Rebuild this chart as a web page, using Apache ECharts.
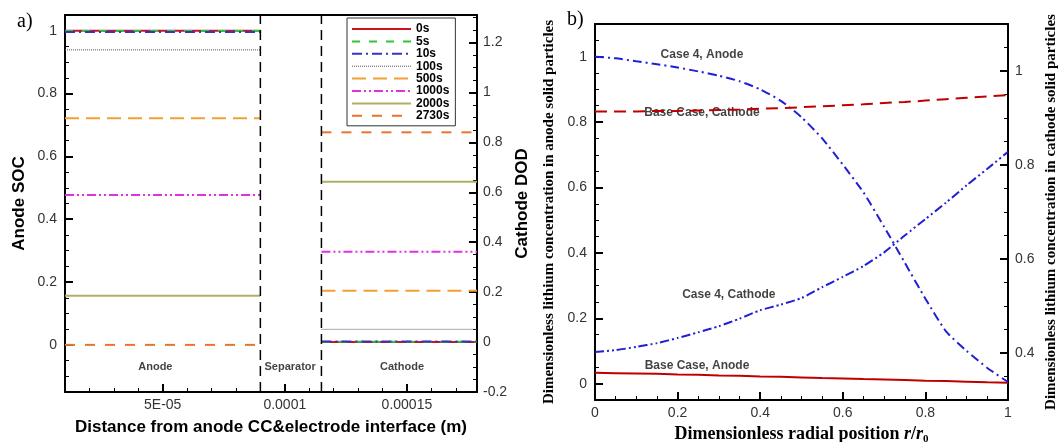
<!DOCTYPE html>
<html>
<head>
<meta charset="utf-8">
<script src="https://cdn.jsdelivr.net/npm/echarts@6/dist/echarts.min.js"></script>
<style>
  html, body { margin: 0; background: #fff; }
  #chart { width: 1059px; height: 442px; background: #fff; }
</style>
</head>
<body>
<div id="chart"></div>
<script>
// ---- panel a) : anode SOC / cathode DOD at several times ----
var times      = ['0s', '5s', '10s', '100s', '500s', '1000s', '2000s', '2730s'];
var anodeSOC   = [1.0, 0.999, 0.996, 0.939, 0.721, 0.477, 0.156, 0.0];
var cathodeDOD = [0.0, 0.001, 0.002, 0.051, 0.206, 0.362, 0.642, 0.84];
var anodeX     = [1e-5, 9e-5];
var cathodeX   = [1.15e-4, 1.787e-4];
var separatorX = [9e-5, 1.15e-4];
var regionNames = ['Anode', 'Separator', 'Cathode'];
var regionX     = [4.7e-5, 1.022e-4, 1.48e-4];
var regionY     = [-0.07, -0.07, -0.07];

var xTicksA  = [5e-5, 1e-4, 1.5e-4];
var xLabelsA = ['5E-05', '0.0001', '0.00015'];
var socTicks  = [0, 0.2, 0.4, 0.6, 0.8, 1];
var socLabels = ['0', '0.2', '0.4', '0.6', '0.8', '1'];
var dodTicks  = [-0.2, 0, 0.2, 0.4, 0.6, 0.8, 1, 1.2];
var dodLabels = ['-0.2', '0', '0.2', '0.4', '0.6', '0.8', '1', '1.2'];

// ---- panel b) : concentration along particle radius ----
var rPos = [0, 0.05, 0.1, 0.15, 0.2, 0.25, 0.3, 0.35, 0.4, 0.45, 0.5,
            0.55, 0.6, 0.65, 0.7, 0.75, 0.8, 0.85, 0.9, 0.95, 1];
var baseAnode   = [0.033, 0.032, 0.031, 0.030, 0.028, 0.027, 0.025, 0.024, 0.022, 0.021, 0.019,
                   0.017, 0.016, 0.014, 0.013, 0.011, 0.009, 0.008, 0.006, 0.004, 0.003];
var case4Anode  = [1.0, 0.995, 0.986, 0.977, 0.967, 0.955, 0.942, 0.925, 0.9, 0.865, 0.815,
                   0.75, 0.67, 0.585, 0.48, 0.37, 0.26, 0.16, 0.1, 0.048, 0.005];
var baseCathode = [0.914, 0.914, 0.914, 0.915, 0.915, 0.916, 0.917, 0.918, 0.92, 0.921, 0.923,
                   0.925, 0.927, 0.929, 0.932, 0.934, 0.937, 0.94, 0.943, 0.946, 0.949];
var case4Cathode = [0.402, 0.406, 0.413, 0.421, 0.432, 0.444, 0.457, 0.473, 0.491, 0.503, 0.517,
                    0.54, 0.562, 0.585, 0.614, 0.65, 0.685, 0.72, 0.757, 0.792, 0.828];
var curveNames = ['Case 4, Anode', 'Base Case, Cathode', 'Case 4, Cathode', 'Base Case, Anode'];
var noteR = [0.259, 0.259, 0.324, 0.247];
var noteC = [1.005, 0.828, 0.271, 0.054];

var rTicks = [0, 0.2, 0.4, 0.6, 0.8, 1];
var rLabels = ['0', '0.2', '0.4', '0.6', '0.8', '1'];
var anCTicks = [0, 0.2, 0.4, 0.6, 0.8, 1];
var anCLabels = ['0', '0.2', '0.4', '0.6', '0.8', '1'];
var caCTicks = [0.4, 0.6, 0.8, 1];
var caCLabels = ['0.4', '0.6', '0.8', '1'];

// axis ranges
var XA = [1e-5, 1.787e-4], YAL = [-0.15, 1.05], YAR = [-0.2, 1.31];
var XB = [0, 1], YBL = [-0.05, 1.1], YBR = [0.3, 1.1];

// plot boxes (px)
var boxA = { l: 65, t: 15, r: 477, b: 392 };
var boxB = { l: 595, t: 24, r: 1008, b: 400 };

var SANS = 'Liberation Sans', SERIF = 'Liberation Serif';

function tickFmt(vals, labels) {
  return function (v) {
    for (var i = 0; i < vals.length; i++) {
      if (Math.abs(v - vals[i]) <= Math.abs(vals[i]) * 1e-6 + 1e-9) return labels[i];
    }
    return '';
  };
}
function gridOf(box, opts) {
  var g = { left: box.l, top: box.t, width: box.r - box.l, height: box.b - box.t,
            containLabel: false, outerBoundsMode: 'none' };
  for (var k in opts) g[k] = opts[k];
  return g;
}
function xPix(box, rng, v) { return box.l + (v - rng[0]) / (rng[1] - rng[0]) * (box.r - box.l); }
function yPix(box, rng, v) { return box.b - (v - rng[0]) / (rng[1] - rng[0]) * (box.b - box.t); }

function lineBlack() { return { show: true, onZero: false, lineStyle: { color: '#000', width: 2 } }; }
function noLine() { return { show: false, onZero: false }; }
function ticks(len) { return { show: true, inside: true, length: len, lineStyle: { color: '#000', width: len > 5 ? 2 : 1 } }; }
function lbl(margin, fmt) { return { margin: margin, formatter: fmt, fontFamily: SANS, fontSize: 14, color: '#333' }; }

var xMajA = xPix(boxA, XA, xTicksA[0]);
var y0A = yPix(boxA, YAL, 0);
var y0B = yPix(boxB, YBL, 0);
var y04B = yPix(boxB, YBR, caCTicks[0]);

var grids = [
  gridOf(boxA, {}),                                                              // 0 main a
  gridOf(boxA, { left: xMajA, width: boxA.r - xMajA }),                          // 1 a x major
  gridOf(boxA, { height: y0A - boxA.t }),                                        // 2 a left major
  gridOf(boxA, {}),                                                              // 3 a right minor + top frame
  gridOf(boxB, {}),                                                              // 4 main b
  gridOf(boxB, {}),                                                              // 5 b x minor
  gridOf(boxB, { height: y0B - boxB.t }),                                        // 6 b left major + top frame
  gridOf(boxB, { height: y04B - boxB.t })                                        // 7 b right major
];

function hidden(g) { return { type: 'value', gridIndex: g, show: false, min: 0, max: 1 }; }
function topFrame(g) {
  return { type: 'value', gridIndex: g, position: 'top', min: 0, max: 1,
           axisLine: lineBlack(), axisTick: { show: false }, axisLabel: { show: false }, splitLine: { show: false } };
}
function ax(o) { o.type = 'value'; o.splitLine = { show: false }; return o; }
var nameA = { fontFamily: SANS, fontWeight: 'bold', fontSize: 17, color: '#000' };
var nameB = { fontFamily: SERIF, fontWeight: 'bold', fontSize: 15, color: '#000' };

var xAxes = [
  ax({ gridIndex: 0, min: XA[0], max: XA[1], interval: 1e-5,
    axisLine: lineBlack(), axisTick: ticks(4), axisLabel: { show: false },
    name: 'Distance from anode CC&electrode interface (m)', nameLocation: 'middle', nameGap: 27,
    nameTextStyle: nameA }),
  ax({ gridIndex: 1, min: xTicksA[0], max: XA[1], interval: 5e-5,
    axisLine: noLine(), axisTick: ticks(8), axisLabel: lbl(6, tickFmt(xTicksA, xLabelsA)) }),
  hidden(2), topFrame(3),
  ax({ gridIndex: 4, min: XB[0], max: XB[1], interval: 0.2,
    axisLine: lineBlack(), axisTick: ticks(8), axisLabel: lbl(6, tickFmt(rTicks, rLabels)),
    name: 'Dimensionless radial position {i|r}/{i|r}{s|0}', nameLocation: 'middle', nameGap: 24,
    nameTextStyle: { fontFamily: SERIF, fontWeight: 'bold', fontSize: 18, color: '#000',
      rich: { i: { fontFamily: SERIF, fontWeight: 'bold', fontStyle: 'italic', fontSize: 18, color: '#000' },
              s: { fontFamily: SERIF, fontWeight: 'bold', fontSize: 11, color: '#000', padding: [10, 0, 0, 0] } } } }),
  ax({ gridIndex: 5, min: XB[0], max: XB[1], interval: 0.05,
    axisLine: noLine(), axisTick: ticks(4), axisLabel: { show: false } }),
  topFrame(6), hidden(7)
];

var yAxes = [
  ax({ gridIndex: 0, position: 'left', min: YAL[0], max: YAL[1], interval: 0.05,
    axisLine: lineBlack(), axisTick: ticks(4), axisLabel: { show: false },
    name: 'Anode SOC', nameLocation: 'middle', nameGap: 37, nameTextStyle: nameA }),
  ax({ gridIndex: 0, position: 'right', min: YAR[0], max: YAR[1], interval: 0.2,
    axisLine: lineBlack(), axisTick: ticks(8), axisLabel: lbl(6, tickFmt(dodTicks, dodLabels)),
    name: 'Cathode DOD', nameLocation: 'middle', nameGap: 37, nameTextStyle: nameA }),
  hidden(1),
  ax({ gridIndex: 2, position: 'left', min: 0, max: YAL[1], interval: 0.2,
    axisLine: noLine(), axisTick: ticks(8), axisLabel: lbl(8, tickFmt(socTicks, socLabels)) }),
  ax({ gridIndex: 3, position: 'right', min: YAR[0], max: YAR[1], interval: 0.05,
    axisLine: noLine(), axisTick: ticks(4), axisLabel: { show: false } }),
  ax({ gridIndex: 4, position: 'left', min: YBL[0], max: YBL[1], interval: 0.05,
    axisLine: lineBlack(), axisTick: ticks(4), axisLabel: { show: false },
    name: 'Dimensionless lithium concentration in anode solid particles', nameLocation: 'middle',
    nameGap: 38, nameTextStyle: nameB }),
  ax({ gridIndex: 4, position: 'right', min: YBR[0], max: YBR[1], interval: 0.05,
    axisLine: lineBlack(), axisTick: ticks(4), axisLabel: { show: false },
    name: 'Dimensionless lithium concentration in cathode solid particles', nameLocation: 'middle',
    nameGap: 36, nameTextStyle: nameB }),
  hidden(5),
  ax({ gridIndex: 6, position: 'left', min: 0, max: YBL[1], interval: 0.2,
    axisLine: noLine(), axisTick: ticks(8), axisLabel: lbl(8, tickFmt(anCTicks, anCLabels)) }),
  ax({ gridIndex: 7, position: 'right', min: caCTicks[0], max: YBR[1], interval: 0.2,
    axisLine: noLine(), axisTick: ticks(8), axisLabel: lbl(7, tickFmt(caCTicks, caCLabels)) })
];

// line styles for the eight times
var timeStyles = [
  { color: '#c8161d', width: 2, type: 'solid' },
  { color: '#2ec82e', width: 2, type: [8, 9] },
  { color: '#3535c0', width: 2, type: [10, 4, 2, 4] },
  { color: '#555555', width: 1, type: [1, 1] },
  { color: '#f2a033', width: 2, type: [14, 7] },
  { color: '#e030e0', width: 2, type: [9, 3, 2, 3, 2, 3] },
  { color: '#b0b060', width: 2, type: 'solid' },
  { color: '#e8732c', width: 2, type: [10, 10] }
];

var series = [];
times.forEach(function (t, i) {
  series.push({ name: t, type: 'line', xAxisIndex: 0, yAxisIndex: 0, symbol: 'none',
    lineStyle: timeStyles[i], itemStyle: { color: timeStyles[i].color },
    data: anodeX.map(function (x) { return [x, anodeSOC[i]]; }) });
  series.push({ name: t, type: 'line', xAxisIndex: 0, yAxisIndex: 1, symbol: 'none',
    lineStyle: timeStyles[i], itemStyle: { color: timeStyles[i].color },
    data: cathodeX.map(function (x) { return [x, cathodeDOD[i]]; }) });
});

// separator boundaries: vertical dashed lines across the full SOC range
separatorX.forEach(function (x, i) {
  series.push({ name: 'separator' + i, type: 'line', xAxisIndex: 0, yAxisIndex: 0, symbol: 'none',
    silent: true, z: 5, lineStyle: { color: '#000', type: [10, 6], width: 1.5 },
    data: [[x, YAL[0]], [x, YAL[1]]] });
});

// region names
series.push({ name: 'regions', type: 'scatter', xAxisIndex: 0, yAxisIndex: 0, symbolSize: 0, silent: true,
  label: { show: true, position: 'inside', formatter: '{b}', fontFamily: SANS, fontWeight: 'bold',
           fontSize: 11, color: '#111' },
  data: regionNames.map(function (n, i) { return { name: n, value: [regionX[i], regionY[i]] }; }) });

// panel b curves
function pairs(ys) { return rPos.map(function (r, i) { return [r, ys[i]]; }); }
series.push({ name: 'Base Case, Anode', type: 'line', xAxisIndex: 4, yAxisIndex: 5, symbol: 'none',
  lineStyle: { color: '#c00000', width: 2 }, data: pairs(baseAnode) });
series.push({ name: 'Case 4, Anode', type: 'line', xAxisIndex: 4, yAxisIndex: 5, symbol: 'none', smooth: 0.2,
  lineStyle: { color: '#1f1fd6', width: 2, type: [9, 4, 2, 4] }, data: pairs(case4Anode) });
series.push({ name: 'Base Case, Cathode', type: 'line', xAxisIndex: 4, yAxisIndex: 6, symbol: 'none',
  lineStyle: { color: '#c00000', width: 2, type: [12, 7] }, data: pairs(baseCathode) });
series.push({ name: 'Case 4, Cathode', type: 'line', xAxisIndex: 4, yAxisIndex: 6, symbol: 'none', smooth: 0.2,
  lineStyle: { color: '#1f1fd6', width: 2, type: [9, 3, 2, 3, 2, 3] }, data: pairs(case4Cathode) });
series.push({ name: 'notes', type: 'scatter', xAxisIndex: 4, yAxisIndex: 5, symbolSize: 0, silent: true,
  label: { show: true, position: 'inside', formatter: '{b}', fontFamily: SANS, fontWeight: 'bold',
           fontSize: 12, color: '#111' },
  data: curveNames.map(function (n, i) { return { name: n, value: [noteR[i], noteC[i]] }; }) });

var chart = echarts.init(document.getElementById('chart'));
chart.setOption({
  animation: false,
  grid: grids,
  xAxis: xAxes,
  yAxis: yAxes,
  legend: {
    data: times, orient: 'vertical', left: 347, top: 18, selectedMode: false,
    itemWidth: 59, itemHeight: 12, itemGap: 0.4, padding: [5, 6, 4, 4],
    borderColor: '#333', borderWidth: 1, backgroundColor: '#fff',
    itemStyle: { opacity: 0, borderWidth: 0 },
    lineStyle: { width: 'inherit' },
    textStyle: { fontFamily: SANS, fontWeight: 'bold', fontSize: 12, color: '#000' }
  },
  graphic: [
    { type: 'text', left: 17, top: 12, style: { text: 'a)', font: '20px "Liberation Serif"', fill: '#000' } },
    { type: 'text', left: 567, top: 10, style: { text: 'b)', font: '20px "Liberation Serif"', fill: '#000' } }
  ],
  series: series
});
</script>
</body>
</html>
